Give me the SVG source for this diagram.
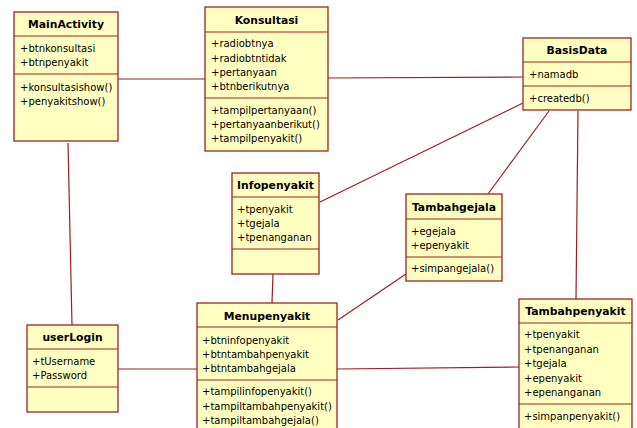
<svg xmlns="http://www.w3.org/2000/svg" width="637" height="428" viewBox="0 0 637 428">
  <style>
    .box { fill: #FFFFC1; stroke: #9B2424; stroke-width: 1.3; }
    .div { stroke: #9B2424; stroke-width: 1.2; fill: none; }
    .edge { stroke: #9B1F1F; stroke-width: 1.2; fill: none; }
    .title { font-family: "DejaVu Sans", Verdana, sans-serif; font-weight: bold; font-size: 10.8px; fill: #000; text-anchor: middle; }
    .item { font-family: "DejaVu Sans", Verdana, sans-serif; font-size: 10px; fill: #000; }
  </style>
  <rect width="637" height="428" fill="#fff"/>

  <!-- associations -->
  <g id="connectors">
    <line class="edge" x1="118" y1="79" x2="205" y2="79"/>
    <line class="edge" x1="328" y1="78" x2="523" y2="77"/>
    <line class="edge" x1="68" y1="143" x2="72" y2="325"/>
    <line class="edge" x1="320" y1="202" x2="523" y2="103"/>
    <line class="edge" x1="488" y1="194" x2="549" y2="111"/>
    <line class="edge" x1="578" y1="111" x2="576" y2="299"/>
    <line class="edge" x1="273" y1="274" x2="272" y2="303"/>
    <line class="edge" x1="406" y1="274" x2="338" y2="320"/>
    <line class="edge" x1="118" y1="369" x2="197" y2="369"/>
    <line class="edge" x1="337" y1="369" x2="519" y2="367"/>
  </g>

  <g id="MainActivity">
    <rect class="box" x="14" y="12" width="104" height="129"/>
    <line class="div" x1="14" y1="36" x2="118" y2="36"/>
    <line class="div" x1="14" y1="74" x2="118" y2="74"/>
    <text class="title" x="66" y="28">MainActivity</text>
    <text class="item" x="20" y="52">+btnkonsultasi</text>
    <text class="item" x="20" y="66">+btnpenyakit</text>
    <text class="item" x="20" y="91">+konsultasishow()</text>
    <text class="item" x="20" y="105">+penyakitshow()</text>
  </g>

  <g id="Konsultasi">
    <rect class="box" x="205" y="7" width="123" height="144"/>
    <line class="div" x1="205" y1="32" x2="328" y2="32"/>
    <line class="div" x1="205" y1="98" x2="328" y2="98"/>
    <text class="title" x="266.5" y="24">Konsultasi</text>
    <text class="item" x="211" y="47">+radiobtnya</text>
    <text class="item" x="211" y="61.5">+radiobtntidak</text>
    <text class="item" x="211" y="76">+pertanyaan</text>
    <text class="item" x="211" y="90">+btnberikutnya</text>
    <text class="item" x="211" y="114">+tampilpertanyaan()</text>
    <text class="item" x="211" y="128">+pertanyaanberikut()</text>
    <text class="item" x="211" y="141.5">+tampilpenyakit()</text>
  </g>

  <g id="BasisData">
    <rect class="box" x="523" y="38" width="108" height="72"/>
    <line class="div" x1="523" y1="62" x2="631" y2="62"/>
    <line class="div" x1="523" y1="86" x2="631" y2="86"/>
    <text class="title" x="577" y="54">BasisData</text>
    <text class="item" x="529" y="78">+namadb</text>
    <text class="item" x="529" y="102">+createdb()</text>
  </g>

  <g id="Infopenyakit">
    <rect class="box" x="232" y="173" width="87" height="101"/>
    <line class="div" x1="232" y1="197" x2="319" y2="197"/>
    <line class="div" x1="232" y1="249" x2="319" y2="249"/>
    <text class="title" x="275.5" y="189">Infopenyakit</text>
    <text class="item" x="237" y="213">+tpenyakit</text>
    <text class="item" x="237" y="227">+tgejala</text>
    <text class="item" x="237" y="241">+tpenanganan</text>
  </g>

  <g id="Tambahgejala">
    <rect class="box" x="406" y="194" width="96" height="87"/>
    <line class="div" x1="406" y1="219" x2="502" y2="219"/>
    <line class="div" x1="406" y1="257" x2="502" y2="257"/>
    <text class="title" x="454" y="211">Tambahgejala</text>
    <text class="item" x="411" y="235">+egejala</text>
    <text class="item" x="411" y="249">+epenyakit</text>
    <text class="item" x="411" y="272">+simpangejala()</text>
  </g>

  <g id="Menupenyakit">
    <rect class="box" x="197" y="303" width="140" height="140"/>
    <line class="div" x1="197" y1="327" x2="337" y2="327"/>
    <line class="div" x1="197" y1="380" x2="337" y2="380"/>
    <text class="title" x="267" y="320">Menupenyakit</text>
    <text class="item" x="202" y="344">+btninfopenyakit</text>
    <text class="item" x="202" y="358">+btntambahpenyakit</text>
    <text class="item" x="202" y="372">+btntambahgejala</text>
    <text class="item" x="202" y="395">+tampilinfopenyakit()</text>
    <text class="item" x="202" y="410">+tampiltambahpenyakit()</text>
    <text class="item" x="202" y="424">+tampiltambahgejala()</text>
  </g>

  <g id="userLogin">
    <rect class="box" x="27" y="325" width="91" height="87"/>
    <line class="div" x1="27" y1="349" x2="118" y2="349"/>
    <line class="div" x1="27" y1="387" x2="118" y2="387"/>
    <text class="title" x="72.5" y="341">userLogin</text>
    <text class="item" x="32" y="365">+tUsername</text>
    <text class="item" x="32" y="379">+Password</text>
  </g>

  <g id="Tambahpenyakit">
    <rect class="box" x="519" y="299" width="113" height="140"/>
    <line class="div" x1="519" y1="323" x2="632" y2="323"/>
    <line class="div" x1="519" y1="404" x2="632" y2="404"/>
    <text class="title" x="575.5" y="315">Tambahpenyakit</text>
    <text class="item" x="524" y="338">+tpenyakit</text>
    <text class="item" x="524" y="352.5">+tpenanganan</text>
    <text class="item" x="524" y="367">+tgejala</text>
    <text class="item" x="524" y="381.5">+epenyakit</text>
    <text class="item" x="524" y="396">+epenanganan</text>
    <text class="item" x="524" y="420">+simpanpenyakit()</text>
  </g>
</svg>
